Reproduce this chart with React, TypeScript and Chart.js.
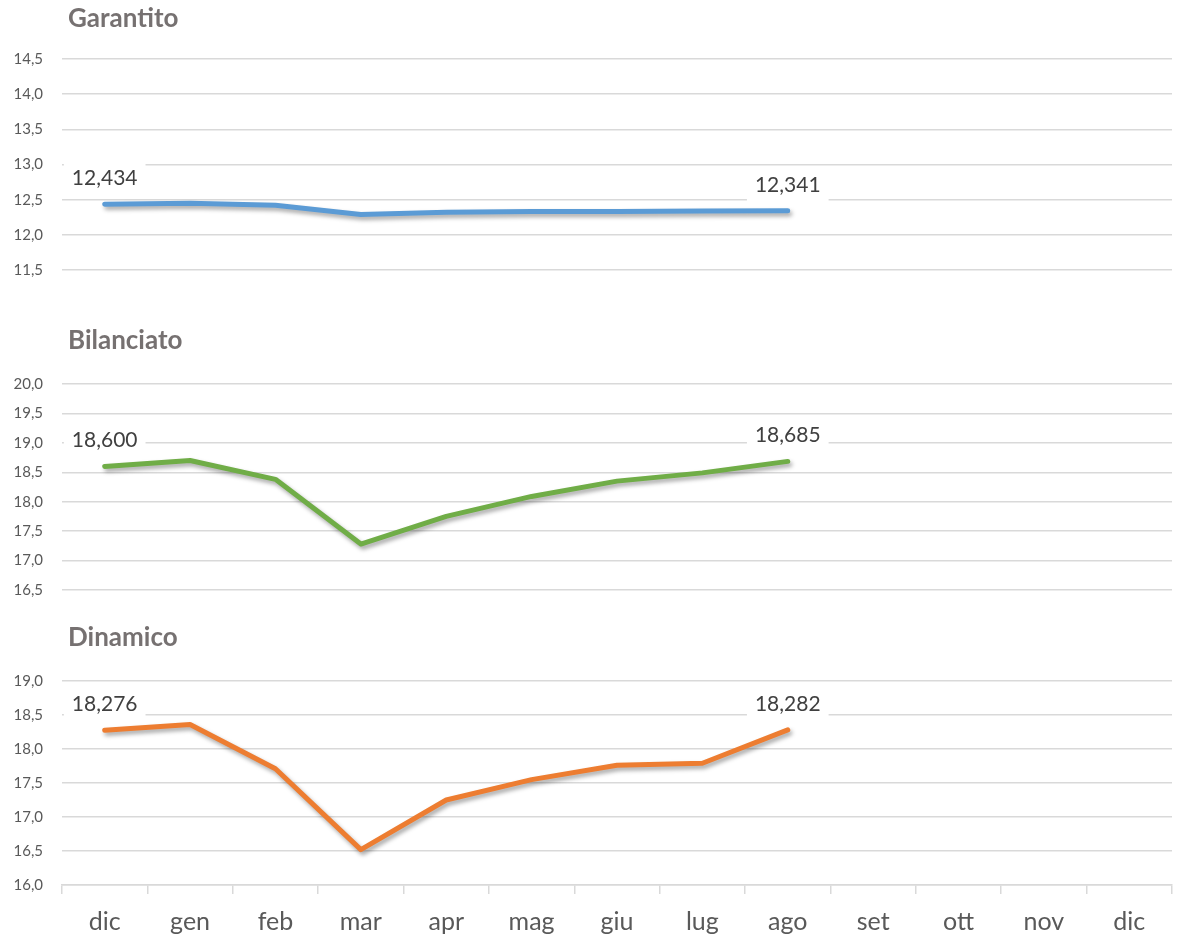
import React, { useEffect, useRef } from 'react';
import { Chart, registerables } from 'chart.js';

Chart.register(...registerables);

// ---- data ----
const months = ['dic', 'gen', 'feb', 'mar', 'apr', 'mag', 'giu', 'lug', 'ago', 'set', 'ott', 'nov', 'dic'];

const garantito = [12.434, 12.45, 12.42, 12.29, 12.32, 12.33, 12.33, 12.34, 12.341, null, null, null, null];
const bilanciato = [18.6, 18.7, 18.38, 17.28, 17.75, 18.09, 18.35, 18.49, 18.685, null, null, null, null];
const dinamico = [18.276, 18.36, 17.71, 16.52, 17.25, 17.55, 17.76, 17.79, 18.282, null, null, null, null];

const garantitoRange = [11.5, 14.5];
const bilanciatoRange = [16.5, 20.0];
const dinamicoRange = [16.0, 19.0];

const labelledPoints = [0, 8];

const FONT = 'Lato, "Open Sans", sans-serif';

const fmtTick = (v: number | string) => Number(v).toFixed(1).replace('.', ',');
const fmtLabel = (v: number) => v.toFixed(3).replace('.', ',');

const shadowPlugin = {
  id: 'lineShadow',
  beforeDatasetDraw(chart: any) {
    const ctx = chart.ctx;
    ctx.save();
    ctx.shadowColor = 'rgba(0,0,0,0.35)';
    ctx.shadowBlur = 4;
    ctx.shadowOffsetX = 2;
    ctx.shadowOffsetY = 3;
  },
  afterDatasetDraw(chart: any) {
    chart.ctx.restore();
  },
};

const valueLabelPlugin = {
  id: 'valueLabels',
  afterDatasetsDraw(chart: any) {
    const ctx = chart.ctx;
    const meta = chart.getDatasetMeta(0);
    const data = chart.data.datasets[0].data;
    ctx.save();
    ctx.font = `21px ${FONT}`;
    ctx.textAlign = 'center';
    ctx.textBaseline = 'middle';
    labelledPoints.forEach((i) => {
      const pt = meta.data[i];
      const v = data[i];
      if (!pt || v == null) return;
      const text = fmtLabel(v);
      const w = ctx.measureText(text).width + 16;
      const h = 34;
      const cx = pt.x;
      const cy = pt.y - 26;
      ctx.fillStyle = '#FFFFFF';
      ctx.fillRect(cx - w / 2, cy - h / 2, w, h);
      ctx.fillStyle = '#404040';
      ctx.fillText(text, cx, cy);
    });
    ctx.restore();
  },
};

const panelTitlePlugin = {
  id: 'panelTitle',
  afterDraw(chart: any, _args: any, opts: any) {
    if (!opts || !opts.text) return;
    const ctx = chart.ctx;
    ctx.save();
    ctx.font = `bold 26px ${FONT}`;
    ctx.fillStyle = '#767171';
    ctx.textAlign = 'left';
    ctx.textBaseline = 'middle';
    ctx.fillText(opts.text, opts.x, opts.y);
    ctx.restore();
  },
};

type PanelProps = {
  title: string;
  values: (number | null)[];
  range: number[];
  color: string;
  top: number;
  height: number;
  padTop: number;
  padBottom: number;
  titleY: number;
  showX: boolean;
};

function Panel(p: PanelProps) {
  const ref = useRef<HTMLCanvasElement | null>(null);
  useEffect(() => {
    if (!ref.current) return;
    const chart = new Chart(ref.current, {
      type: 'line',
      data: {
        labels: months,
        datasets: [
          {
            data: p.values,
            borderColor: p.color,
            backgroundColor: p.color,
            borderWidth: 5,
            pointRadius: 0,
            pointHoverRadius: 0,
            tension: 0,
            borderCapStyle: 'round',
            borderJoinStyle: 'round',
            spanGaps: false,
          },
        ],
      },
      options: {
        animation: false,
        responsive: false,
        maintainAspectRatio: false,
        devicePixelRatio: 1,
        layout: { padding: { top: p.padTop, bottom: p.padBottom, left: 0, right: 5 } },
        plugins: {
          legend: { display: false },
          tooltip: { enabled: false },
          title: { display: false },
          panelTitle: { text: p.title, x: 68, y: p.titleY },
        } as any,
        scales: {
          x: {
            type: 'category',
            display: p.showX,
            offset: true,
            grid: {
              offset: true,
              drawOnChartArea: false,
              drawTicks: true,
              tickLength: 9,
              color: '#D9D9D9',
              lineWidth: 1.5,
            },
            border: { display: true, color: '#D9D9D9', width: 1.5 },
            ticks: {
              font: { family: FONT, size: 25 },
              color: '#595959',
              padding: 13,
              maxRotation: 0,
              autoSkip: false,
            },
            afterFit: (s: any) => {
              if (p.showX) s.height = 52;
            },
          },
          y: {
            type: 'linear',
            min: p.range[0],
            max: p.range[1],
            grid: { color: '#D9D9D9', lineWidth: 1.5, drawTicks: false },
            border: { display: false },
            ticks: {
              stepSize: 0.5,
              padding: 19,
              color: '#595959',
              font: { family: FONT, size: 15 },
              callback: (v: any) => fmtTick(v),
            },
            afterFit: (s: any) => {
              s.width = 62;
            },
          },
        },
      },
      plugins: [shadowPlugin, valueLabelPlugin, panelTitlePlugin],
    } as any);
    return () => chart.destroy();
  }, []);
  return (
    <canvas
      ref={ref}
      width={1177}
      height={p.height}
      style={{ position: 'absolute', left: 0, top: p.top, display: 'block', width: 1177, height: p.height }}
    />
  );
}

export default function App() {
  useEffect(() => {
    document.body.style.margin = '0';
    document.body.style.background = '#FFFFFF';
  }, []);
  return (
    <div style={{ position: 'absolute', left: 0, top: 0, width: 1177, height: 937, background: '#FFFFFF' }}>
      <Panel title="Garantito" values={garantito} range={garantitoRange} color="#5B9BD5" top={0} height={320} padTop={59} padBottom={50} titleY={19} showX={false} />
      <Panel title="Bilanciato" values={bilanciato} range={bilanciatoRange} color="#70AD47" top={300} height={337} padTop={84} padBottom={47} titleY={41} showX={false} />
      <Panel title="Dinamico" values={dinamico} range={dinamicoRange} color="#ED7D31" top={600} height={337} padTop={81} padBottom={0} titleY={38} showX={true} />
    </div>
  );
}
